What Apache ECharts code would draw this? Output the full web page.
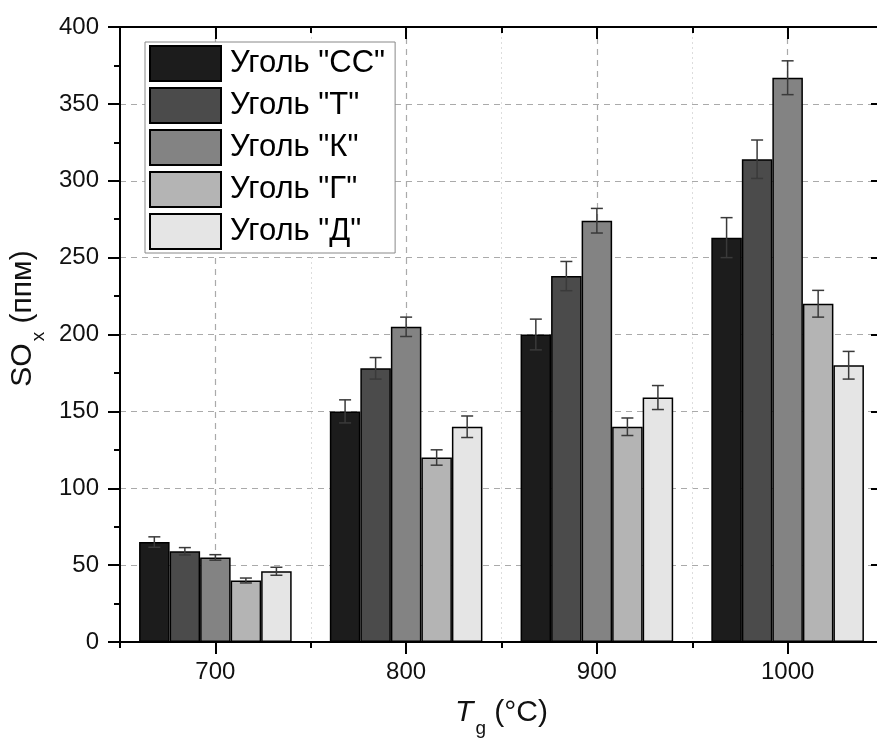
<!DOCTYPE html>
<html>
<head>
<meta charset="utf-8">
<script src="https://cdn.jsdelivr.net/npm/echarts@6/dist/echarts.min.js"></script>
<style>html,body{margin:0;padding:0;background:#fff;width:877px;height:746px;overflow:hidden}#c{width:890px;height:746px}</style>
</head>
<body>
<div id="c"></div>
<script>
const categories = ['700', '800', '900', '1000'];
const seriesNames = ['Уголь "СС"', 'Уголь "Т"', 'Уголь "К"', 'Уголь "Г"', 'Уголь "Д"'];
const valuesCC = [65, 150, 200, 263];
const valuesT  = [59, 178, 238, 314];
const valuesK  = [55, 205, 274, 367];
const valuesG  = [40, 120, 140, 220];
const valuesD  = [46, 140, 159, 180];
const errCC = [3.4, 7.5, 10, 13];
const errT  = [2.4, 7, 9.5, 12.5];
const errK  = [1.8, 6.3, 8, 11];
const errG  = [1.6, 5, 5.7, 8.7];
const errD  = [2.6, 7, 7.8, 9];
const yMin = 0, yMax = 400, yStep = 50;

const allValues = [valuesCC, valuesT, valuesK, valuesG, valuesD];
const allErrs = [errCC, errT, errK, errG, errD];
const colors = ['#1c1c1c', '#4b4b4b', '#838383', '#b4b4b4', '#e5e5e5'];
const FONT = '"Liberation Sans", Arial, sans-serif';

const barSeries = allValues.map((vals, i) => ({
  name: seriesNames[i],
  type: 'bar',
  xAxisIndex: 0, yAxisIndex: 0,
  data: vals,
  barGap: '0%',
  barCategoryGap: '20%',
  itemStyle: { color: colors[i], borderColor: '#000', borderWidth: 1.5 },
  emphasis: { disabled: true },
  z: 2
}));

const errSeries = allValues.map((vals, si) => ({
  type: 'custom',
  xAxisIndex: 0, yAxisIndex: 0,
  silent: true,
  z: 5,
  renderItem: function (params, api) {
    const ci = api.value(0), v = api.value(1), e = api.value(2);
    const c = api.coord([ci, v]);
    const band = api.size([1, 0])[0];
    const bw = band * 0.8 / 5;
    const x = c[0] + (si - 2) * bw;
    const top = api.coord([ci, v + e])[1];
    const bot = api.coord([ci, v - e])[1];
    const hw = 6;
    const st = { stroke: '#3a3a3a', lineWidth: 1.5 };
    return {
      type: 'group',
      children: [
        { type: 'line', shape: { x1: x, y1: top, x2: x, y2: bot }, style: st },
        { type: 'line', shape: { x1: x - hw, y1: top, x2: x + hw, y2: top }, style: st },
        { type: 'line', shape: { x1: x - hw, y1: bot, x2: x + hw, y2: bot }, style: st }
      ]
    };
  },
  data: vals.map((v, i) => [i, v, allErrs[si][i]])
}));

const chart = echarts.init(document.getElementById('c'), null, { renderer: 'canvas' });
chart.setOption({
  backgroundColor: '#ffffff',
  animation: false,
  textStyle: { fontFamily: FONT },
  grid: { left: 120, top: 27, right: 7, bottom: 104, containLabel: false },
  legend: {
    data: seriesNames,
    orient: 'vertical',
    left: 145, top: 42,
    icon: 'rect',
    itemWidth: 71, itemHeight: 35, itemGap: 5,
    padding: [3, 10, 3, 4],
    backgroundColor: '#ffffff',
    borderColor: '#888888', borderWidth: 1,
    textStyle: { fontFamily: FONT, fontSize: 31, color: '#000', padding: [0, 0, 0, 4] },
    selectedMode: false
  },
  xAxis: [
    {
      type: 'category', position: 'bottom', data: categories,
      axisLine: { show: true, lineStyle: { color: '#000', width: 2 } },
      axisTick: { show: true, alignWithLabel: true, length: 12, lineStyle: { color: '#000', width: 2 } },
      axisLabel: { fontFamily: FONT, fontSize: 24, color: '#111', margin: 18 },
      splitLine: { show: true, alignWithLabel: true, lineStyle: { color: '#aaaaaa', type: [6, 5], width: 1.2 } },
      name: '{i|T}{s|g}{n| (°C)}',
      nameLocation: 'middle', nameGap: 56,
      nameTextStyle: {
        rich: {
          i: { fontFamily: FONT, fontSize: 30, fontStyle: 'italic', color: '#111' },
          s: { fontFamily: FONT, fontSize: 19, color: '#111', verticalAlign: 'bottom', padding: [0, 0, -10, 2] },
          n: { fontFamily: FONT, fontSize: 30, color: '#111' }
        }
      }
    },
    {
      type: 'category', position: 'bottom', data: categories,
      axisLine: { show: false },
      axisTick: { show: true, length: 6, lineStyle: { color: '#000', width: 2 } },
      axisLabel: { show: false },
      splitLine: { show: true, lineStyle: { color: '#dddddd', type: [2, 3], width: 1 } }
    },
    {
      type: 'category', position: 'top', data: categories,
      axisLine: { show: true, lineStyle: { color: '#000', width: 2 } },
      axisTick: { show: true, inside: true, alignWithLabel: true, length: 12, lineStyle: { color: '#000', width: 2 } },
      axisLabel: { show: false },
      splitLine: { show: false }
    },
    {
      type: 'category', position: 'top', data: categories,
      axisLine: { show: false },
      axisTick: { show: true, inside: true, length: 6, lineStyle: { color: '#000', width: 2 } },
      axisLabel: { show: false },
      splitLine: { show: false }
    }
  ],
  yAxis: [
    {
      type: 'value', position: 'left', min: yMin, max: yMax, interval: yStep,
      axisLine: { show: true, lineStyle: { color: '#000', width: 2 } },
      axisTick: { show: true, length: 12, lineStyle: { color: '#000', width: 2 } },
      minorTick: { show: true, splitNumber: 2, length: 6, lineStyle: { color: '#000', width: 2 } },
      axisLabel: { fontFamily: FONT, fontSize: 24, color: '#111', margin: 21 },
      splitLine: { show: true, lineStyle: { color: '#aaaaaa', type: [6, 5], width: 1.2 } },
      name: '{a|SO}{b|x}{a| (ппм)}',
      nameLocation: 'middle', nameGap: 72,
      nameTextStyle: {
        padding: [0, 0, 0, 32],
        rich: {
          a: { fontFamily: FONT, fontSize: 30, color: '#111' },
          b: { fontFamily: FONT, fontSize: 19, color: '#111', verticalAlign: 'bottom', padding: [0, 0, -10, 2] }
        }
      }
    },
    {
      type: 'value', position: 'right', min: yMin, max: yMax, interval: yStep,
      axisLine: { show: true, lineStyle: { color: '#000', width: 2 } },
      axisTick: { show: true, inside: true, length: 12, lineStyle: { color: '#000', width: 2 } },
      minorTick: { show: true, splitNumber: 2, length: 6, lineStyle: { color: '#000', width: 2 } },
      axisLabel: { show: false },
      splitLine: { show: false }
    }
  ],
  series: barSeries.concat(errSeries)
});
</script>
</body>
</html>
